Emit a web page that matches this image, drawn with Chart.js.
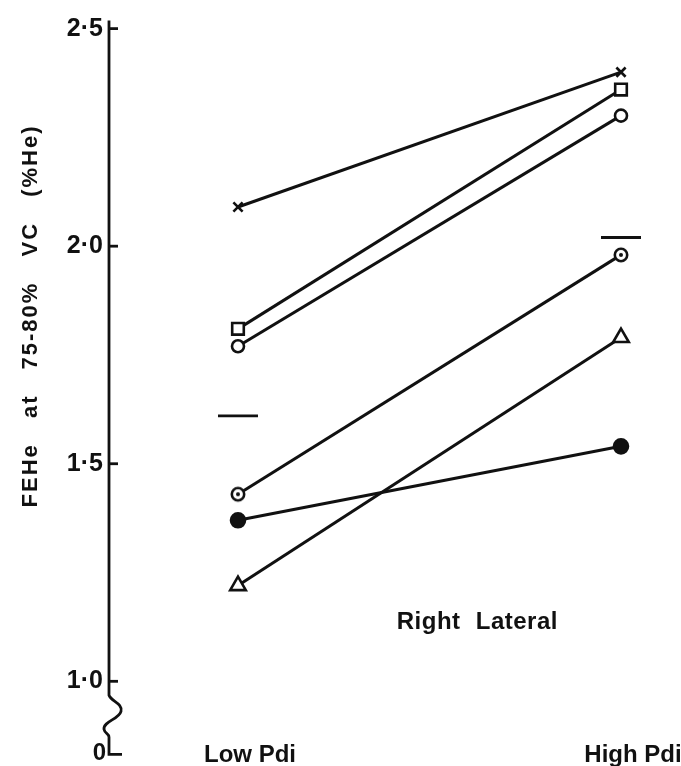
<!DOCTYPE html>
<html>
<head>
<meta charset="utf-8">
<script src="https://cdn.jsdelivr.net/npm/chart.js@4.4.1/dist/chart.umd.min.js"></script>
<style>
  html, body { margin: 0; padding: 0; background: #fff; }
  #wrap { width: 681px; height: 766px; }
</style>
</head>
<body>
<div id="wrap"><canvas id="c" width="681" height="766"></canvas></div>
<script>
// ---- data ----
const conditions = ['Low Pdi', 'High Pdi'];
const conditionX = [0, 1];
const seriesCross = [2.09, 2.40];
const seriesSquare = [1.81, 2.36];
const seriesOpenCircle = [1.77, 2.30];
const seriesDotCircle = [1.43, 1.98];
const seriesFilledCircle = [1.37, 1.54];
const seriesTriangle = [1.22, 1.79];
const meanValues = [1.61, 2.02];
const yTickValues = [1.0, 1.5, 2.0, 2.5];
const yTickLabels = ['1·0', '1·5', '2·0', '2·5'];
const breakLabel = '0';
const yTitle = 'FEHe at 75-80% VC (%He)';
const annotationText = 'Right Lateral';

const FONT = "'Liberation Sans', Arial, sans-serif";
const INK = '#111';

function pts(vals) { return vals.map((v, i) => ({ x: conditionX[i], y: v })); }

// circled-dot marker
function makeDotCircle() {
  const c = document.createElement('canvas');
  c.width = 18; c.height = 18;
  const g = c.getContext('2d');
  g.fillStyle = '#fff';
  g.beginPath(); g.arc(9, 9, 7, 0, Math.PI * 2); g.fill();
  g.strokeStyle = INK; g.lineWidth = 2.6;
  g.beginPath(); g.arc(9, 9, 6.2, 0, Math.PI * 2); g.stroke();
  g.fillStyle = INK;
  g.beginPath(); g.arc(9, 9, 2, 0, Math.PI * 2); g.fill();
  return c;
}
const dotCircle = makeDotCircle();

function ds(vals, style, radius, fill) {
  return {
    data: pts(vals),
    borderColor: INK,
    borderWidth: 3,
    pointStyle: style,
    pointRadius: radius,
    pointBorderWidth: 2.6,
    pointBorderColor: INK,
    pointBackgroundColor: fill,
    showLine: true,
    fill: false,
    tension: 0
  };
}

const axisPlugin = {
  id: 'axisPlugin',
  afterDraw(chart) {
    const ctx = chart.ctx;
    const y = chart.scales.y;
    const x = chart.scales.x;
    const ca = chart.chartArea;
    const x0 = ca.left;
    const yTop = y.getPixelForValue(2.5) - 8;
    const y1 = y.getPixelForValue(1.0);
    ctx.save();
    ctx.strokeStyle = INK;
    ctx.lineWidth = 2.8;
    ctx.lineCap = 'butt';
    // axis with break
    ctx.beginPath();
    ctx.moveTo(x0, yTop);
    ctx.lineTo(x0, y1 + 14);
    ctx.bezierCurveTo(x0 + 2, y1 + 20, x0 + 14, y1 + 22, x0 + 12, y1 + 30);
    ctx.bezierCurveTo(x0 + 10, y1 + 38, x0 - 6, y1 + 40, x0 - 5, y1 + 48);
    ctx.bezierCurveTo(x0 - 4, y1 + 53, x0, y1 + 52, x0, y1 + 56);
    ctx.lineTo(x0, y1 + 73);
    ctx.lineTo(x0 + 13, y1 + 73);
    ctx.stroke();
    // ticks pointing right
    yTickValues.forEach(v => {
      const py = y.getPixelForValue(v);
      ctx.beginPath();
      ctx.moveTo(x0, py);
      ctx.lineTo(x0 + 9, py);
      ctx.stroke();
    });
    // "0" label at the foot
    ctx.fillStyle = INK;
    ctx.font = 'bold 24px ' + FONT;
    ctx.textAlign = 'right';
    ctx.textBaseline = 'middle';
    ctx.fillText(breakLabel, x0 - 3, y1 + 72);
    // y title
    ctx.save();
    ctx.translate(31, (y.getPixelForValue(2.5) + y.getPixelForValue(1.0)) / 2 - 39);
    ctx.rotate(-Math.PI / 2);
    ctx.font = 'bold 22px ' + FONT;
    try { ctx.letterSpacing = '2px'; ctx.wordSpacing = '17px'; } catch (e) {}
    ctx.textAlign = 'center';
    ctx.textBaseline = 'middle';
    ctx.fillText(yTitle, 0, 0);
    ctx.restore();
    // annotation
    ctx.font = 'bold 24px ' + FONT;
    try { ctx.letterSpacing = '0.5px'; ctx.wordSpacing = '8px'; } catch (e) {}
    ctx.textAlign = 'center';
    ctx.textBaseline = 'middle';
    ctx.fillText(annotationText, x.getPixelForValue(0.625), y.getPixelForValue(1.135));
    ctx.restore();
  }
};

new Chart(document.getElementById('c'), {
  type: 'line',
  data: {
    datasets: [
      ds(seriesCross, 'crossRot', 6.5, '#fff'),
      ds(seriesSquare, 'rect', 8.2, '#fff'),
      ds(seriesOpenCircle, 'circle', 6, '#fff'),
      ds(seriesDotCircle, dotCircle, 9, '#fff'),
      ds(seriesFilledCircle, 'circle', 7, INK),
      ds(seriesTriangle, 'triangle', 9, '#fff'),
      {
        data: pts(meanValues),
        showLine: false,
        pointStyle: 'line',
        pointRadius: 20,
        pointBorderWidth: 2.8,
        pointBorderColor: INK,
        borderColor: INK
      }
    ]
  },
  options: {
    responsive: false,
    animation: false,
    events: [],
    layout: { autoPadding: false, padding: { top: 0, right: 6, left: 0, bottom: 0 } },
    plugins: { legend: { display: false }, tooltip: { enabled: false } },
    scales: {
      x: {
        type: 'linear',
        min: -0.3368,
        max: 1.141,
        grid: { display: false, drawTicks: false },
        border: { display: false },
        afterBuildTicks(s) { s.ticks = conditionX.map(v => ({ value: v })); },
        afterFit(s) { s.height = 33; s.paddingLeft = 0; s.paddingRight = 0; },
        ticks: {
          padding: 8,
          labelOffset: 12,
          color: INK,
          font: { family: FONT, size: 24, weight: 'bold' },
          callback(v) { const i = conditionX.indexOf(v); return i >= 0 ? conditions[i] : ''; },
          maxRotation: 0,
          autoSkip: false
        }
      },
      y: {
        type: 'linear',
        min: 0.8812,
        max: 2.5175,
        grid: { display: false, drawTicks: false },
        border: { display: false },
        afterBuildTicks(s) { s.ticks = yTickValues.map(v => ({ value: v })); },
        afterFit(s) { s.width = 109; },
        ticks: {
          padding: 6,
          color: INK,
          font: { family: FONT, size: 25, weight: 'bold' },
          callback(v) { const i = yTickValues.indexOf(v); return i >= 0 ? yTickLabels[i] : ''; },
          autoSkip: false
        }
      }
    }
  },
  plugins: [axisPlugin]
});
</script>
</body>
</html>
